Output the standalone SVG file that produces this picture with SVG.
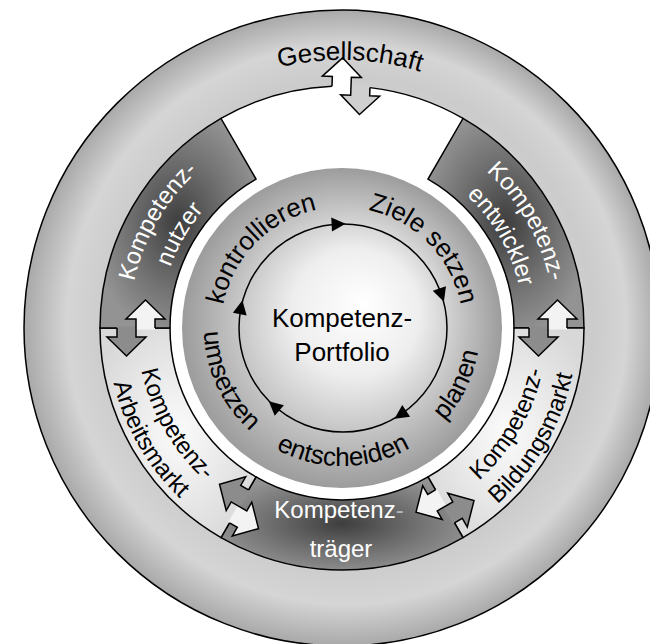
<svg xmlns="http://www.w3.org/2000/svg" width="650" height="644" viewBox="0 0 650 644">
<style>
.ln{fill:none;stroke:#000;stroke-width:1.5}
.sg{stroke:#000;stroke-width:1.5;stroke-linejoin:miter}
.zz{fill:none;stroke:#000;stroke-width:1.5;stroke-linejoin:miter}
text{font-family:"Liberation Sans",Arial,sans-serif;text-anchor:middle}
.b{fill:#000}
.w{fill:#fff}
.cy{font-size:26px}
.sl{font-size:24px}
</style>
<defs>
<radialGradient id="gRing" gradientUnits="userSpaceOnUse" cx="342" cy="328" r="318" fx="380" fy="300">
<stop offset="0" stop-color="#ffffff"/>
<stop offset="0.76" stop-color="#cbcbcb"/>
<stop offset="0.88" stop-color="#d5d5d5"/>
<stop offset="1" stop-color="#a9a9a9"/>
</radialGradient>
<radialGradient id="gDisc" cx="0.5" cy="0.5" r="0.5" fx="0.57" fy="0.42">
<stop offset="0" stop-color="#ffffff"/>
<stop offset="0.4" stop-color="#eeeeee"/>
<stop offset="1" stop-color="#9c9c9c"/>
</radialGradient>
<radialGradient id="gDark" cx="0.5" cy="0.5" r="0.55">
<stop offset="0" stop-color="#3e3e3e"/>
<stop offset="0.6" stop-color="#737373"/>
<stop offset="1" stop-color="#939393"/>
</radialGradient>
<radialGradient id="gLight" cx="0.5" cy="0.5" r="0.6">
<stop offset="0" stop-color="#fbfbfb"/>
<stop offset="1" stop-color="#d8d8d8"/>
</radialGradient>
<path id="tri" d="M8,0 L-6,-7 L-6,7 Z"/>
<path id="aL" d="M-19,1.5 L-19,-9 L-29,-9 L-9.5,-28 L10,-9 L0,-9 L0,1.5 Z"/>
<path id="aR" d="M0,-1.5 L0,9 L-10,9 L9.5,28 L29,9 L19,9 L19,-1.5 Z"/>
<path id="zz" d="M-19,0 L-19,-9 L-29,-9 L-9.5,-28 L10,-9 L0,-9 L0,9 L-10,9 L9.5,28 L29,9 L19,9 L19,0"/>
<path id="zzTop" d="M-19,0.75 L-19,-9 L-29,-9 L-9.5,-28 L10,-9 L0,-9 L0,9 L-10,9 L9.5,28 L29,9 L19,9 L19,0.75"/>
<path id="pGes" d="M114,187.2 A268,268 0 0 1 578,200.9"/>
<path id="pKon" d="M225.4,360.3 A121,121 0 0 1 372.3,210.9"/>
<path id="pZie" d="M312.3,210.7 A121,121 0 0 1 458.4,360.9"/>
<path id="pPla" d="M351.6,465.7 A138,138 0 0 0 456.4,250.8"/>
<path id="pEnt" d="M223.1,398 A138,138 0 0 0 462.1,395.9"/>
<path id="pUms" d="M229,248.8 A138,138 0 0 0 330,465.5"/>
<path id="pN1" d="M157.5,434.5 A213,213 0 0 1 342,115"/>
<path id="pN2" d="M184.4,419 A182,182 0 0 1 342,146"/>
<path id="pE1" d="M342,115 A213,213 0 0 1 526.5,434.5"/>
<path id="pE2" d="M342,146 A182,182 0 0 1 499.6,419"/>
<path id="pA1" d="M164.5,225.5 A205,205 0 0 0 342,533"/>
<path id="pA2" d="M138.5,210.5 A235,235 0 0 0 342,563"/>
<path id="pB1" d="M342,533 A205,205 0 0 0 519.5,225.5"/>
<path id="pB2" d="M342,563 A235,235 0 0 0 545.5,210.5"/>
</defs>

<g id="gesellschaft-ring">
<circle cx="342" cy="328" r="318" fill="url(#gRing)" stroke="#000" stroke-width="1.5"/>
<circle cx="342" cy="328" r="242" fill="#fff"/>
<path class="ln" d="M221,118.42 A242,242 0 0 1 331.99,86.21"/>
<path class="ln" d="M369.96,87.63 A242,242 0 0 1 463,118.42"/>
</g>

<g id="kompetenzentwickler">
<path class="sg" fill="url(#gDark)" d="M463,118.42 A242,242 0 0 1 584,328 L514,328 A172,172 0 0 0 428,179.04 Z"/>
</g>
<g id="kompetenz-bildungsmarkt">
<path class="sg" fill="url(#gLight)" d="M584,328 A242,242 0 0 1 463,537.58 L428,476.96 A172,172 0 0 0 514,328 Z"/>
</g>
<g id="kompetenztraeger">
<path class="sg" fill="url(#gDark)" d="M463,537.58 A242,242 0 0 1 221,537.58 L256,476.96 A172,172 0 0 0 428,476.96 Z"/>
</g>
<g id="kompetenz-arbeitsmarkt">
<path class="sg" fill="url(#gLight)" d="M221,537.58 A242,242 0 0 1 100,328 L170,328 A172,172 0 0 0 256,476.96 Z"/>
</g>
<g id="kompetenznutzer">
<path class="sg" fill="url(#gDark)" d="M100,328 A242,242 0 0 1 221,118.42 L256,179.04 A172,172 0 0 0 170,328 Z"/>
</g>

<g id="kompetenz-portfolio">
<circle cx="342" cy="328" r="160" fill="url(#gDisc)"/>
<circle cx="343" cy="328" r="104" class="ln"/>
<use href="#tri" transform="translate(337.6,224.1) rotate(-3)"/>
<use href="#tri" transform="translate(441.3,294.1) rotate(71)"/>
<use href="#tri" transform="translate(401.2,414.2) rotate(146)"/>
<use href="#tri" transform="translate(274.8,406.5) rotate(221)"/>
<use href="#tri" transform="translate(240.9,308.2) rotate(281)"/>
<text class="b" font-size="26" x="342" y="327">Kompetenz-</text>
<text class="b" font-size="26" x="342" y="361">Portfolio</text>
<text class="b cy"><textPath href="#pKon" startOffset="50%">kontrollieren</textPath></text>
<text class="b cy"><textPath href="#pZie" startOffset="50%">Ziele setzen</textPath></text>
<text class="b cy"><textPath href="#pPla" startOffset="50%">planen</textPath></text>
<text class="b cy"><textPath href="#pEnt" startOffset="50%">entscheiden</textPath></text>
<text class="b cy"><textPath href="#pUms" startOffset="50%">umsetzen</textPath></text>
</g>

<g id="connectors">
<g transform="translate(351,86.17) rotate(2.13)">
<use href="#aL" fill="#ffffff"/>
<use href="#aR" fill="#cfcfcf"/>
<use href="#zzTop" class="zz"/>
</g>
<g transform="matrix(-1 0 0 1 136 328)">
<use href="#aL" fill="#f3f3f3"/>
<use href="#aR" fill="#8c8c8c"/>
<use href="#zz" class="zz"/>
</g>
<g transform="matrix(1 0 0 -1 548 328)">
<use href="#aL" fill="#8c8c8c"/>
<use href="#aR" fill="#f3f3f3"/>
<use href="#zz" class="zz"/>
</g>
<g transform="matrix(-0.5 0.866 0.866 0.5 239 506.4)">
<use href="#aL" fill="#8c8c8c"/>
<use href="#aR" fill="#f3f3f3"/>
<use href="#zz" class="zz"/>
</g>
<g transform="matrix(0.5 0.866 0.866 -0.5 445 506.4)">
<use href="#aL" fill="#f3f3f3"/>
<use href="#aR" fill="#8c8c8c"/>
<use href="#zz" class="zz"/>
</g>
</g>

<g id="labels">
<text class="b" font-size="26"><textPath href="#pGes" startOffset="50%">Gesellschaft</textPath></text>
<text class="w sl"><textPath href="#pN1" startOffset="50%">Kompetenz-</textPath></text>
<text class="w sl"><textPath href="#pN2" startOffset="50%">nutzer</textPath></text>
<text class="w sl"><textPath href="#pE1" startOffset="50%">Kompetenz-</textPath></text>
<text class="w sl"><textPath href="#pE2" startOffset="50%">entwickler</textPath></text>
<text class="b sl"><textPath href="#pA1" startOffset="50%">Kompetenz-</textPath></text>
<text class="b sl"><textPath href="#pA2" startOffset="50%">Arbeitsmarkt</textPath></text>
<text class="b sl"><textPath href="#pB1" startOffset="50%">Kompetenz-</textPath></text>
<text class="b sl"><textPath href="#pB2" startOffset="50%">Bildungsmarkt</textPath></text>
<text class="w sl" x="339" y="518">Kompetenz<tspan fill="#b5b5b5">-</tspan></text>
<text class="w sl" x="341" y="557">träger</text>
</g>
</svg>
